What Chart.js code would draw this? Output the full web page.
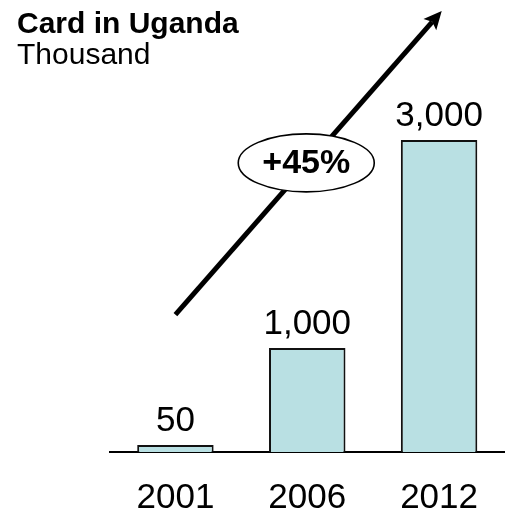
<!DOCTYPE html>
<html>
<head>
<meta charset="utf-8">
<script src="https://cdn.jsdelivr.net/npm/chart.js@4.4.1/dist/chart.umd.min.js"></script>
<style>
  html, body { margin: 0; padding: 0; background: #ffffff; }
  #wrap { width: 505px; height: 515px; position: relative; }
</style>
</head>
<body>
<div id="wrap"><canvas id="c" width="505" height="515"></canvas></div>
<script>
const categories = ['2001', '2006', '2012'];
const cardValues = [50, 1000, 3000];
const titleText = 'Card in Uganda';
const subtitleText = 'Thousand';
const growthLabel = '+45%';
// arrow / bubble annotation anchored in data units (category index, value)
const arrowStart = [0, 1320];
const arrowEnd = [2.02, 4240];
const bubbleAt = [1, 2780];

const FONT = 'Arial, "Liberation Sans", Helvetica, sans-serif';

const annotationPlugin = {
  id: 'annot',
  afterDatasetsDraw(chart) {
    const ctx = chart.ctx;
    const xs = chart.scales.x, ys = chart.scales.y;
    const meta = chart.getDatasetMeta(0);
    ctx.save();
    // value labels
    ctx.fillStyle = '#000';
    ctx.font = '35px ' + FONT;
    ctx.textAlign = 'center';
    ctx.textBaseline = 'alphabetic';
    meta.data.forEach((bar, i) => {
      ctx.fillText(cardValues[i].toLocaleString('en-US'), bar.x, bar.y - 14);
    });
    // arrow
    const x1 = xs.getPixelForValue(arrowStart[0]), y1 = ys.getPixelForValue(arrowStart[1]);
    const x2 = xs.getPixelForValue(arrowEnd[0]), y2 = ys.getPixelForValue(arrowEnd[1]);
    const ang = Math.atan2(y2 - y1, x2 - x1);
    const headLen = 18, headW = 8.5;
    const c = Math.cos(ang), s = Math.sin(ang);
    ctx.strokeStyle = '#000';
    ctx.lineWidth = 5;
    ctx.beginPath();
    ctx.moveTo(x1, y1);
    ctx.lineTo(x2 - c * headLen * 0.8, y2 - s * headLen * 0.8);
    ctx.stroke();
    ctx.beginPath();
    ctx.moveTo(x2, y2);
    ctx.lineTo(x2 - c * headLen - s * headW, y2 - s * headLen + c * headW);
    ctx.lineTo(x2 - c * headLen * 0.8, y2 - s * headLen * 0.8);
    ctx.lineTo(x2 - c * headLen + s * headW, y2 - s * headLen - c * headW);
    ctx.closePath();
    ctx.fillStyle = '#000';
    ctx.fill();
    // bubble
    const cx = xs.getPixelForValue(bubbleAt[0]) - 1, cy = ys.getPixelForValue(bubbleAt[1]);
    ctx.beginPath();
    ctx.ellipse(cx, cy, 68, 29, 0, 0, Math.PI * 2);
    ctx.fillStyle = '#fff';
    ctx.fill();
    ctx.lineWidth = 1.6;
    ctx.stroke();
    ctx.fillStyle = '#000';
    ctx.font = 'bold 34px ' + FONT;
    ctx.textBaseline = 'middle';
    ctx.fillText(growthLabel, cx, cy + 1);
    ctx.restore();
  }
};

new Chart(document.getElementById('c'), {
  type: 'bar',
  data: {
    labels: categories,
    datasets: [{
      data: cardValues,
      backgroundColor: '#b9e0e3',
      borderColor: '#111',
      borderWidth: 2,
      borderSkipped: 'bottom',
      categoryPercentage: 1.0,
      barPercentage: 0.58,
      minBarLength: 7
    }]
  },
  options: {
    responsive: false,
    animation: false,
    layout: { padding: { left: 17, right: -3, top: 0, bottom: 0 } },
    plugins: {
      legend: { display: false },
      tooltip: { enabled: false },
      title: {
        display: true, text: titleText, align: 'start', color: '#000',
        font: { family: FONT, size: 30, weight: 'bold', lineHeight: 1.0 },
        padding: { top: 9.5, bottom: 1.5 }
      },
      subtitle: {
        display: true, text: subtitleText, align: 'start', color: '#000',
        font: { family: FONT, size: 30, weight: 'normal', lineHeight: 1.0 },
        padding: { top: 0, bottom: 6.6 }
      }
    },
    scales: {
      x: {
        grid: { display: false, drawTicks: false },
        border: { display: true, color: '#000', width: 2 },
        ticks: { color: '#000', font: { family: FONT, size: 35 }, padding: 25 },
        afterFit(scale) { scale.height = 63; }
      },
      y: {
        display: true,
        min: 0, max: 3600,
        grid: { display: false, drawTicks: false },
        border: { display: false },
        ticks: { display: false },
        afterFit(scale) { scale.width = 92.5; }
      }
    }
  },
  plugins: [annotationPlugin]
});
</script>
</body>
</html>
